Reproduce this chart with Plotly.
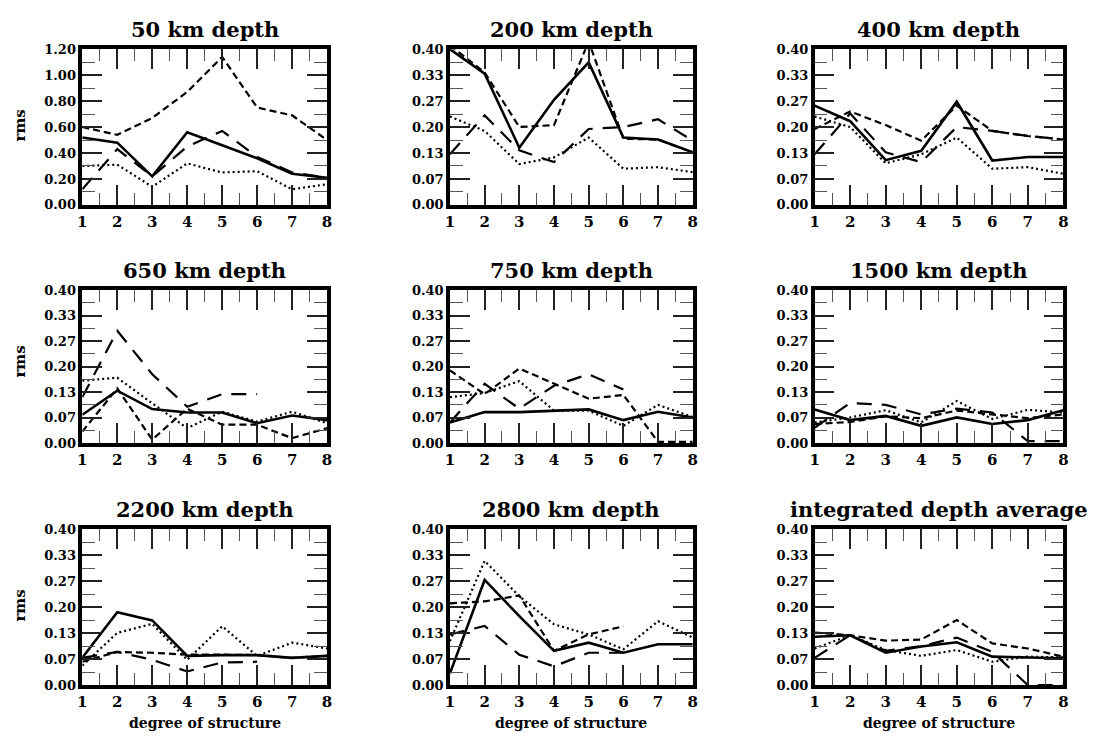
import plotly.graph_objects as go

W, H = 1108, 746

degrees = [1, 2, 3, 4, 5, 6, 7, 8]
x_tick_text = ["1", "2", "3", "4", "5", "6", "7", "8"]

titles = ["50 km depth", "200 km depth", "400 km depth",
          "650 km depth", "750 km depth", "1500 km depth",
          "2200 km depth", "2800 km depth", "integrated depth average"]

y_ticks_50 = [0.0, 0.2, 0.4, 0.6, 0.8, 1.0, 1.2]
y_text_50 = ["0.00", "0.20", "0.40", "0.60", "0.80", "1.00", "1.20"]
y_ticks = [0.0, 1 / 15, 2 / 15, 0.2, 4 / 15, 1 / 3, 0.4]
y_text = ["0.00", "0.07", "0.13", "0.20", "0.27", "0.33", "0.40"]

# ---- data (rms per degree of structure) ----
d50_solid = [0.52, 0.48, 0.22, 0.56, 0.46, 0.36, 0.24, 0.21]
d50_long = [0.12, 0.43, 0.22, 0.45, 0.57, 0.37, 0.25, 0.21]
d50_short = [0.60, 0.54, 0.67, 0.87, 1.14, 0.75, 0.69, 0.50]
d50_dot = [0.30, 0.31, 0.14, 0.32, 0.25, 0.26, 0.12, 0.16]

d200_solid = [0.40, 0.337, 0.147, 0.27, 0.366, 0.173, 0.168, 0.135]
d200_long = [0.13, 0.23, 0.14, 0.11, 0.195, 0.20, 0.22, 0.165]
d200_short = [0.41, 0.34, 0.20, 0.205, 0.42, 0.17, 0.168, 0.135]
d200_dot = [0.227, 0.19, 0.105, 0.122, 0.173, 0.093, 0.097, 0.084]

d400_solid = [0.255, 0.215, 0.115, 0.139, 0.265, 0.114, 0.123, 0.123]
d400_long = [0.13, 0.235, 0.135, 0.11, 0.20, 0.19, 0.177, 0.168]
d400_short = [0.195, 0.24, 0.205, 0.165, 0.255, 0.19, 0.177, 0.168]
d400_dot = [0.227, 0.20, 0.107, 0.13, 0.173, 0.093, 0.097, 0.08]

d650_solid = [0.074, 0.137, 0.089, 0.08, 0.08, 0.052, 0.072, 0.06]
d650_long = [0.12, 0.294, 0.18, 0.095, 0.128, 0.128, None, None]
d650_short = [0.03, 0.143, 0.009, 0.09, 0.048, 0.048, 0.013, 0.039]
d650_dot = [0.163, 0.171, 0.104, 0.039, 0.082, 0.056, 0.082, 0.052]

d750_solid = [0.054, 0.081, 0.081, 0.084, 0.088, 0.06, 0.082, 0.067]
d750_long = [0.054, 0.155, 0.09, 0.15, 0.18, 0.14, None, None]
d750_short = [0.19, 0.128, 0.195, 0.156, 0.116, 0.126, 0.003, 0.003]
d750_dot = [0.12, 0.131, 0.162, 0.085, 0.085, 0.045, 0.10, 0.068]

d1500_solid = [0.088, 0.06, 0.071, 0.045, 0.067, 0.05, 0.06, 0.086]
d1500_long = [0.04, 0.105, 0.10, 0.075, 0.09, 0.08, 0.005, 0.005]
d1500_short = [0.05, 0.055, 0.07, 0.065, 0.085, 0.075, 0.065, 0.075]
d1500_dot = [0.054, 0.067, 0.086, 0.054, 0.11, 0.063, 0.087, 0.08]

d2200_solid = [0.07, 0.187, 0.166, 0.075, 0.077, 0.077, 0.07, 0.075]
d2200_long = [0.07, 0.085, 0.065, 0.035, 0.058, 0.06, None, None]
d2200_short = [0.06, 0.085, 0.083, 0.078, 0.078, 0.077, 0.07, 0.075]
d2200_dot = [0.05, 0.134, 0.157, 0.065, 0.151, 0.075, 0.109, 0.094]

d2800_solid = [0.03, 0.27, 0.177, 0.088, 0.109, 0.083, 0.105, 0.105]
d2800_long = [0.13, 0.152, 0.078, 0.048, 0.083, 0.083, None, None]
d2800_short = [0.21, 0.215, 0.23, 0.088, 0.13, 0.151, None, None]
d2800_dot = [0.113, 0.319, 0.228, 0.156, 0.13, 0.092, 0.164, 0.122]

dint_solid = [0.124, 0.128, 0.083, 0.099, 0.11, 0.073, 0.071, 0.069]
dint_long = [0.07, 0.128, 0.088, 0.10, 0.122, 0.085, 0.0, 0.0]
dint_short = [0.135, 0.128, 0.114, 0.117, 0.167, 0.107, 0.094, 0.073]
dint_dot = [0.094, 0.128, 0.09, 0.075, 0.09, 0.06, 0.073, 0.071]

panels = [
    (d50_solid, d50_long, d50_short, d50_dot),
    (d200_solid, d200_long, d200_short, d200_dot),
    (d400_solid, d400_long, d400_short, d400_dot),
    (d650_solid, d650_long, d650_short, d650_dot),
    (d750_solid, d750_long, d750_short, d750_dot),
    (d1500_solid, d1500_long, d1500_short, d1500_dot),
    (d2200_solid, d2200_long, d2200_short, d2200_dot),
    (d2800_solid, d2800_long, d2800_short, d2800_dot),
    (dint_solid, dint_long, dint_short, dint_dot),
]

# ---- styling / layout ----
FONT = "DejaVu Serif"
line_styles = [
    dict(color="black", width=2.6, dash="solid"),
    dict(color="black", width=2.2, dash="15px,10px"),
    dict(color="black", width=2.2, dash="7px,4px"),
    dict(color="black", width=2.2, dash="2px,3px"),
]
col_px = [(78, 325), (449, 694), (817, 1068)]
row_px = [(43, 202), (289, 445), (533, 692)]
rms_y_px = [121, 362, 611]

fig = go.Figure()
annotations = []

for i, series in enumerate(panels):
    r, c = divmod(i, 3)
    k = i + 1
    xs = "x" if k == 1 else f"x{k}"
    ys = "y" if k == 1 else f"y{k}"
    for vals, st in zip(series, line_styles):
        fig.add_trace(go.Scatter(x=degrees, y=vals, mode="lines", line=st,
                                 connectgaps=False, showlegend=False,
                                 xaxis=xs, yaxis=ys, hoverinfo="skip"))
    x0, x1 = col_px[c]
    y0, y1 = row_px[r]
    first = (i == 0)
    yv = y_ticks_50 if first else y_ticks
    yt = y_text_50 if first else y_text
    ymax = 1.2 if first else 0.4
    ydt = 0.1 if first else 1 / 30

    common = dict(showline=True, linewidth=3.5, linecolor="black", mirror="allticks",
                  ticks="inside", ticklen=20, tickwidth=1.7, tickcolor="#222",
                  showgrid=False, zeroline=False, fixedrange=True)
    fig.layout[("xaxis" if k == 1 else f"xaxis{k}")] = dict(
        domain=[x0 / W, x1 / W], anchor=ys, range=[1, 8],
        tickmode="array", tickvals=degrees, ticktext=x_tick_text,
        tickfont=dict(family=FONT, size=15, color="black", weight="bold"),
        minor=dict(ticks="inside", ticklen=12, tickwidth=1.3, tickcolor="#555",
                   tick0=1, dtick=0.5),
        **common)
    fig.layout[("yaxis" if k == 1 else f"yaxis{k}")] = dict(
        domain=[1 - y1 / H, 1 - y0 / H], anchor=xs, range=[0, ymax],
        tickmode="array", tickvals=yv, ticktext=yt,
        tickfont=dict(family=FONT, size=13, color="black", weight="bold"),
        minor=dict(ticks="inside", ticklen=13, tickwidth=1.3, tickcolor="#555",
                   tick0=0, dtick=ydt),
        **common)

    annotations.append(dict(text=titles[i], x=(x0 + x1) / 2 / W, y=1 - (y0 - 5) / H,
                            xref="paper", yref="paper", xanchor="center", yanchor="bottom",
                            showarrow=False,
                            font=dict(family=FONT, size=21, color="black", weight="bold")))
    if c == 0:
        annotations.append(dict(text="rms", x=15 / W, y=1 - rms_y_px[r] / H,
                                xref="paper", yref="paper", xanchor="center", yanchor="middle",
                                textangle=-90, showarrow=False,
                                font=dict(family=FONT, size=15, color="black", weight="bold")))
    if r == 2:
        annotations.append(dict(text="degree of structure", x=(x0 + x1) / 2 / W, y=1 - 731 / H,
                                xref="paper", yref="paper", xanchor="center", yanchor="middle",
                                showarrow=False,
                                font=dict(family=FONT, size=14, color="black", weight="bold")))

fig.update_layout(width=W, height=H, margin=dict(l=0, r=0, t=0, b=0),
                  paper_bgcolor="white", plot_bgcolor="white",
                  annotations=annotations, showlegend=False)

fig.write_html("out.html", config={"displayModeBar": False})
